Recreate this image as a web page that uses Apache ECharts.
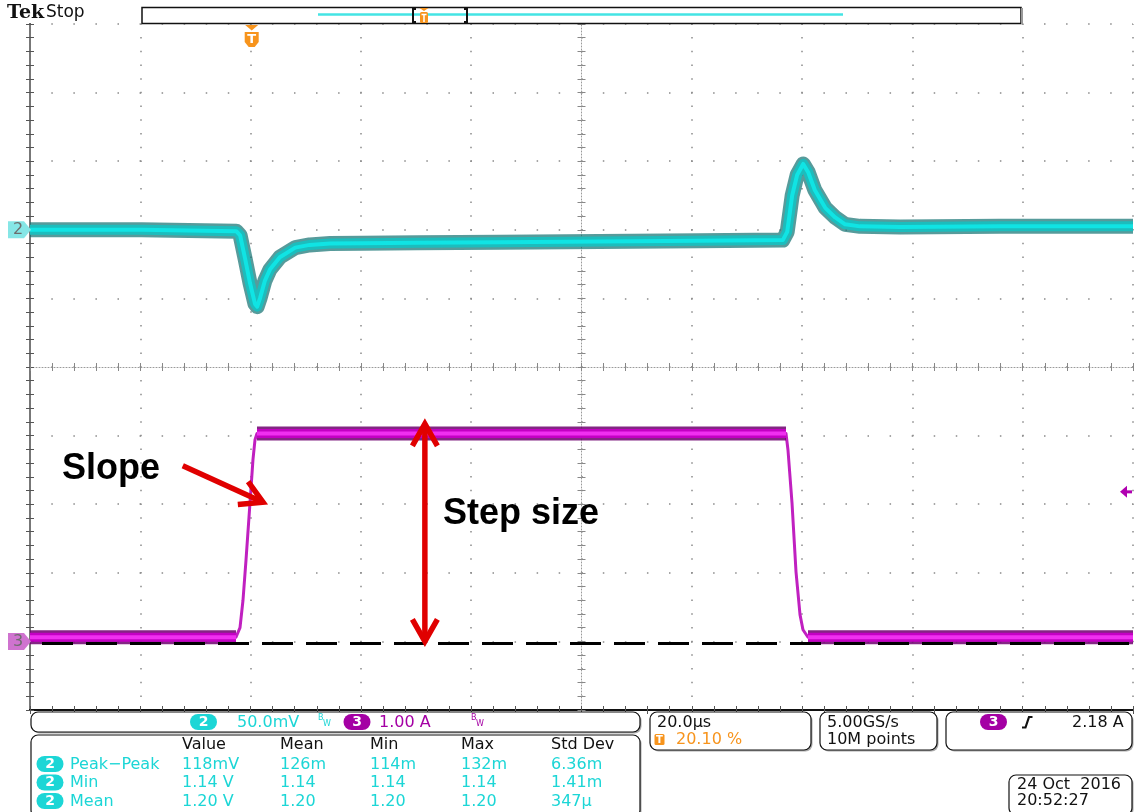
<!DOCTYPE html>
<html><head><meta charset="utf-8">
<script src="https://cdn.jsdelivr.net/npm/echarts@6/dist/echarts.min.js"></script>
<style>html,body{margin:0;padding:0;background:#fff}#c{width:1134px;height:812px}</style>
</head><body><div id="c"></div>
<script>
// ---------------- DATA ----------------
// time axis: 20 µs/div, 10 divisions, trigger at 20.10 % of record
const timeMin = -40.2, timeMax = 159.8;
// Channel 2 (50.0 mV/div, offset 1.20 V)
const ch2Offset = 1.20, ch2Scale = 0.05;
const ch2Time  = [-40.2, -20, -2.8, -2.1, -1.2, -0.3, 0.6, 1.0, 1.5, 2.4, 3.3, 5.1, 7.9, 10.5, 14.2, 20, 30, 45, 63, 81, 96.3, 97.1, 98.0, 98.9, 100.0, 100.9, 102.1, 104.0, 105.8, 107.6, 110.3, 117.6, 135.7, 159.8];
const ch2Volts = [1.200, 1.200, 1.199, 1.196, 1.179, 1.161, 1.146, 1.144, 1.150, 1.163, 1.171, 1.180, 1.187, 1.189, 1.190, 1.1902, 1.1905, 1.191, 1.1915, 1.192, 1.1925, 1.1985, 1.225, 1.240, 1.248, 1.242, 1.229, 1.216, 1.209, 1.204, 1.2025, 1.202, 1.2025, 1.2025];
// Channel 3 (1.00 A/div, offset 0 A)
const ch3Offset = 0, ch3Scale = 1.0;
const ch3Time = [-40.2, -2.85, -2.12, -1.58, -1.03, -0.31, 0.23, 0.6, 0.96, 96.88, 97.24, 97.97, 98.70, 99.42, 99.96, 100.87, 159.8];
const ch3Amps = [0.06, 0.06, 0.20, 0.60, 1.19, 2.02, 2.65, 2.94, 3.03, 3.03, 2.79, 2.02, 1.01, 0.39, 0.17, 0.06, 0.06];
const triggerLevel = 2.18;      // A, on ch3
const baseLevel = -0.03;        // A, dashed reference line
// annotations (µs, A)
const slopeArrow = [[-12.5, 2.56], [2.05, 2.03]];
const stepArrow  = [[31.4, 0.0], [31.4, 3.17]];
const slopeLabel = {text: 'Slope', at: [-34.4, 2.51]};
const stepLabel  = {text: 'Step size', at: [34.7, 1.86]};
// readouts
const scaleTexts = ['50.0mV', '1.00 A'];
const measHeaders = ['Value', 'Mean', 'Min', 'Max', 'Std Dev'];
const measRows = [
  ['Peak\u2212Peak', '118mV', '126m', '114m', '132m', '6.36m'],
  ['Min', '1.14 V', '1.14', '1.14', '1.14', '1.41m'],
  ['Mean', '1.20 V', '1.20', '1.20', '1.20', '347\u00b5']
];
const horizTexts = ['20.0\u00b5s', '20.10 %'];
const acqTexts = ['5.00GS/s', '10M points'];
const trigText = '2.18 A';
const dateTexts = ['24 Oct  2016', '20:52:27'];

// ---------------- BUILD ----------------
const ch2Data = ch2Time.map((t, i) => [t, ch2Volts[i]]);
const ch3Data = ch3Time.map((t, i) => [t, ch3Amps[i]]);
// plateau (noise band) segments of ch3
const ch3Band = [];
for (let i = 0; i < ch3Data.length - 1; i++) {
  if (Math.abs(ch3Data[i + 1][1] - ch3Data[i][1]) < 0.01) {
    ch3Band.push(ch3Data[i], ch3Data[i + 1], [ch3Data[i+1][0], null]);
  }
}

const CYAN = '#1cd6d6', MAG = '#a400a4', ORANGE = '#f7941d';
const chart = echarts.init(document.getElementById('c'));

function gridAxisX(extra) {
  return Object.assign({type: 'value', gridIndex: 0, min: 0, max: 10, interval: 1,
    axisLabel: {show: false}, splitLine: {show: false}}, extra);
}
function gridAxisY(extra) {
  return Object.assign({type: 'value', gridIndex: 0, min: 0, max: 10, interval: 1,
    axisLabel: {show: false}, splitLine: {show: false}}, extra);
}
const tickStyle = {color: '#555', width: 1};

const line = (data, yIdx, width, color, z, extra) => Object.assign({
  type: 'line', data, xAxisIndex: 0, yAxisIndex: yIdx, showSymbol: false, symbol: 'none',
  connectNulls: false, silent: true, z,
  lineStyle: {width, color, cap: 'butt', join: 'round'}
}, extra || {});

chart.setOption({
  animation: false,
  backgroundColor: '#ffffff',
  grid: {left: 30, top: 24, width: 1103, height: 686},
  xAxis: [
    {type: 'value', min: timeMin, max: timeMax, show: false},
    gridAxisX({position: 'bottom',
      axisLine: {show: true, lineStyle: {color: '#111', width: 2}},
      axisTick: {show: true, inside: true, length: 4, lineStyle: tickStyle},
      minorTick: {show: true, splitNumber: 5, length: 4, lineStyle: tickStyle},
      splitLine: {show: true, lineStyle: {color: '#8a8a8a', width: 1.5, type: [1.5, 12.22], dashOffset: 0.75}}}),
    gridAxisX({position: 'top',
      axisLine: {show: true, lineStyle: {color: '#111', width: 2}},
      axisTick: {show: true, inside: true, length: 4, lineStyle: tickStyle},
      minorTick: {show: true, splitNumber: 5, length: 4, lineStyle: tickStyle}}),
    gridAxisX({position: 'bottom', offset: -343,
      axisLine: {show: true, lineStyle: {color: '#9a9a9a', width: 1, type: [1, 2]}},
      axisTick: {show: true, inside: true, length: 4, lineStyle: {color: '#888'}},
      minorTick: {show: true, splitNumber: 5, length: 4, lineStyle: {color: '#888'}}}),
    gridAxisX({position: 'bottom', offset: -343,
      axisLine: {show: false},
      axisTick: {show: true, inside: false, length: 4, lineStyle: {color: '#888'}},
      minorTick: {show: true, splitNumber: 5, length: 4, lineStyle: {color: '#888'}}})
  ],
  yAxis: [
    {type: 'value', min: ch2Offset - 7 * ch2Scale, max: ch2Offset + 3 * ch2Scale, show: false},
    {type: 'value', min: ch3Offset - 1 * ch3Scale, max: ch3Offset + 9 * ch3Scale, show: false},
    gridAxisY({position: 'left',
      axisLine: {show: true, lineStyle: {color: '#111', width: 2}},
      axisTick: {show: true, inside: true, length: 4, lineStyle: tickStyle},
      minorTick: {show: true, splitNumber: 5, length: 4, lineStyle: tickStyle},
      splitLine: {show: true, lineStyle: {color: '#8a8a8a', width: 1.5, type: [1.5, 20.56], dashOffset: 0.75}}}),
    gridAxisY({position: 'right',
      axisLine: {show: true, lineStyle: {color: '#777', width: 2}},
      axisTick: {show: true, inside: true, length: 4, lineStyle: tickStyle},
      minorTick: {show: true, splitNumber: 5, length: 4, lineStyle: tickStyle}}),
    gridAxisY({position: 'left', offset: -551.5,
      axisLine: {show: true, lineStyle: {color: '#9a9a9a', width: 1, type: [1, 2]}},
      axisTick: {show: true, inside: true, length: 4, lineStyle: {color: '#888'}},
      minorTick: {show: true, splitNumber: 5, length: 4, lineStyle: {color: '#888'}}}),
    gridAxisY({position: 'left', offset: -551.5,
      axisLine: {show: false},
      axisTick: {show: true, inside: false, length: 4, lineStyle: {color: '#888'}},
      minorTick: {show: true, splitNumber: 5, length: 4, lineStyle: {color: '#888'}}})
  ],
  series: [
    line(ch2Data, 0, 15, 'rgba(16,112,112,0.7)', 3),
    line(ch2Data, 0, 10, '#1cbdbd', 4),
    line(ch2Data, 0, 4, '#10e4e4', 5),
    line(ch3Data, 1, 3, '#c020c0', 3),
    line(ch3Band, 1, 14, 'rgba(110,0,110,0.85)', 4),
    line(ch3Band, 1, 9, '#c400c4', 5),
    line(ch3Band, 1, 4, '#f030f0', 6),
    line([[timeMin, baseLevel], [timeMax, baseLevel]], 1, 3, '#000', 8,
      {lineStyle: {width: 3, color: '#000', type: [31, 13], dashOffset: 32, cap: 'butt'}})
  ]
});

// ---------------- OVERLAY ----------------
const P2 = v => chart.convertToPixel({xAxisIndex: 0, yAxisIndex: 0}, v);
const P3 = v => chart.convertToPixel({xAxisIndex: 0, yAxisIndex: 1}, v);
const FONT = '"DejaVu Sans", Verdana, sans-serif';
const g = [];
function txt(x, y, text, fill, size, extra) {
  g.push({type: 'text', x, y, z: 120, silent: true, style: Object.assign({
    text, fill: fill || '#000', font: (size || 16) + 'px ' + FONT,
    textAlign: 'left', align: 'left', textVerticalAlign: 'middle', verticalAlign: 'middle'}, extra || {})});
}
function panel(x, y, w, h) {
  g.push({type: 'rect', z: 105, silent: true, shape: {x: x + 1.5, y: y + 1.5, width: w, height: h, r: 7}, style: {fill: '#aaa'}});
  g.push({type: 'rect', z: 106, silent: true, shape: {x, y, width: w, height: h, r: 7}, style: {fill: '#fff', stroke: '#111', lineWidth: 1.2}});
}
function pill(cx, cy, label, color) {
  g.push({type: 'rect', z: 110, silent: true, shape: {x: cx - 13.5, y: cy - 8, width: 27, height: 16, r: 8}, style: {fill: color}});
  g.push({type: 'text', x: cx, y: cy, z: 111, silent: true, style: {text: label, fill: '#fff', font: 'bold 14px ' + FONT,
    textAlign: 'center', align: 'center', textVerticalAlign: 'middle', verticalAlign: 'middle'}});
}
function bw(x, y, color) {
  txt(x, y - 3, 'B', color, 8);
  txt(x + 5, y + 3, 'W', color, 8);
}
function arrowHead(tip, from, color) {
  const dx = tip[0] - from[0], dy = tip[1] - from[1];
  const len = Math.hypot(dx, dy), ux = dx / len, uy = dy / len, nx = -uy, ny = ux;
  const L = 22, W = 12.5;
  g.push({type: 'polyline', z: 130, silent: true, shape: {points: [
    [tip[0] - L * ux + W * nx, tip[1] - L * uy + W * ny], [tip[0], tip[1]],
    [tip[0] - L * ux - W * nx, tip[1] - L * uy - W * ny]]},
    style: {stroke: color, lineWidth: 5.5, fill: null, lineJoin: 'miter', miterLimit: 10}});
}
function arrow(a, b, both) {
  const RED = '#e00000';
  const ux = (b[0] - a[0]), uy = (b[1] - a[1]), len = Math.hypot(ux, uy);
  const sa = both ? [a[0] + ux / len * 3, a[1] + uy / len * 3] : a;
  const sb = [b[0] - ux / len * 3, b[1] - uy / len * 3];
  g.push({type: 'line', z: 129, silent: true, shape: {x1: sa[0], y1: sa[1], x2: sb[0], y2: sb[1]}, style: {stroke: RED, lineWidth: 5.5}});
  arrowHead(b, a, RED);
  if (both) arrowHead(a, b, RED);
}

// header
txt(7, 13, 'Tek', '#111', 19, {font: 'bold 19px "DejaVu Serif", serif'});
txt(46, 13, 'Stop', '#111', 17);
g.push({type: 'rect', z: 101, silent: true, shape: {x: 142, y: 7.5, width: 879, height: 16}, style: {fill: '#fff', stroke: '#111', lineWidth: 1.5}});
g.push({type: 'line', z: 102, silent: true, shape: {x1: 1022, y1: 8, x2: 1022, y2: 24}, style: {stroke: '#999', lineWidth: 2}});
g.push({type: 'line', z: 102, silent: true, shape: {x1: 318, y1: 14.5, x2: 843, y2: 14.5}, style: {stroke: '#44e4e4', lineWidth: 2.5}});
g.push({type: 'polyline', z: 103, silent: true, shape: {points: [[416, 9], [413, 9], [413, 22], [416, 22]]}, style: {stroke: '#111', lineWidth: 2, fill: null}});
g.push({type: 'polyline', z: 103, silent: true, shape: {points: [[464, 9], [467, 9], [467, 22], [464, 22]]}, style: {stroke: '#111', lineWidth: 2, fill: null}});
g.push({type: 'polygon', z: 103, silent: true, shape: {points: [[419.5, 8], [428.5, 8], [424, 11]]}, style: {fill: ORANGE}});
g.push({type: 'rect', z: 103, silent: true, shape: {x: 420, y: 12, width: 8, height: 11, r: 1.5}, style: {fill: ORANGE}});
g.push({type: 'line', z: 104, silent: true, shape: {x1: 424, y1: 14, x2: 424, y2: 22}, style: {stroke: '#fff', lineWidth: 1.5}});
g.push({type: 'line', z: 104, silent: true, shape: {x1: 421.5, y1: 14.5, x2: 426.5, y2: 14.5}, style: {stroke: '#fff', lineWidth: 1.5}});

// trigger position marker (t = 0)
const tx = P3([0, 0])[0];
g.push({type: 'polygon', z: 110, silent: true, shape: {points: [[tx - 6.5, 25], [tx + 6.5, 25], [tx, 30.5]]}, style: {fill: ORANGE}});
g.push({type: 'polygon', z: 110, silent: true, shape: {points: [[tx - 7, 32], [tx + 7, 32], [tx + 7, 42], [tx + 3, 47], [tx - 3, 47], [tx - 7, 42]]}, style: {fill: ORANGE}});
g.push({type: 'text', x: tx, y: 39.5, z: 111, silent: true, style: {text: 'T', fill: '#fff', font: 'bold 13px ' + FONT, textAlign: 'center', align: 'center', textVerticalAlign: 'middle', verticalAlign: 'middle'}});

// channel markers
function chMarker(y, label, fill) {
  g.push({type: 'polygon', z: 110, silent: true, shape: {points: [[8, y - 8.5], [24, y - 8.5], [31, y], [24, y + 8.5], [8, y + 8.5]]}, style: {fill}});
  g.push({type: 'text', x: 13, y: y + 0.5, z: 111, silent: true, style: {text: label, fill: '#6d6d6d', font: '16px ' + FONT, textAlign: 'left', align: 'left', textVerticalAlign: 'middle', verticalAlign: 'middle'}});
}
chMarker(P2([0, ch2Offset])[1], '2', '#86e6e6');
chMarker(P3([0, ch3Offset])[1], '3', '#cf73cf');
// trigger level arrow
const ty = P3([0, triggerLevel])[1];
g.push({type: 'polygon', z: 110, silent: true, shape: {points: [[1120, ty], [1127, ty - 6], [1127, ty + 6]]}, style: {fill: '#b000b0'}});
g.push({type: 'line', z: 110, silent: true, shape: {x1: 1126, y1: ty, x2: 1132, y2: ty}, style: {stroke: '#b000b0', lineWidth: 3}});

// annotations
arrow(P3(slopeArrow[0]), P3(slopeArrow[1]), false);
arrow(P3(stepArrow[0]), P3(stepArrow[1]), true);
const sl = P3(slopeLabel.at), st = P3(stepLabel.at);
txt(sl[0], sl[1], slopeLabel.text, '#000', 36, {font: 'bold 36px "Liberation Sans", Arial, sans-serif'});
txt(st[0], st[1], stepLabel.text, '#000', 36, {font: 'bold 36px "Liberation Sans", Arial, sans-serif'});

// bottom panels
panel(31, 712, 609, 20);
pill(203.5, 722, '2', CYAN);
txt(237, 722.5, scaleTexts[0], CYAN, 16);
bw(318, 721, CYAN);
pill(357, 722, '3', MAG);
txt(379, 722.5, scaleTexts[1], MAG, 16);
bw(471, 721, MAG);

panel(31, 735, 609, 82);
const cols = [182, 280, 370, 461, 551];
measHeaders.forEach((h, i) => txt(cols[i], 745, h, '#111', 16));
measRows.forEach((r, j) => {
  const y = 764 + j * 18.5;
  pill(50, y, '2', CYAN);
  txt(70, y + 0.5, r[0], CYAN, 16);
  for (let i = 1; i < r.length; i++) txt(cols[i - 1], y + 0.5, r[i], CYAN, 16);
});

panel(650, 712, 161, 38);
txt(657, 723, horizTexts[0], '#111', 16);
g.push({type: 'rect', z: 110, silent: true, shape: {x: 654.5, y: 734, width: 10, height: 11, r: 1.5}, style: {fill: ORANGE}});
g.push({type: 'text', x: 659.5, y: 740, z: 111, silent: true, style: {text: 'T', fill: '#fff', font: 'bold 10px ' + FONT, textAlign: 'center', align: 'center', textVerticalAlign: 'middle', verticalAlign: 'middle'}});
txt(676, 740, horizTexts[1], ORANGE, 16);

panel(820, 712, 117, 38);
txt(827, 723, acqTexts[0], '#111', 16);
txt(827, 740, acqTexts[1], '#111', 16);

panel(946, 712, 186, 38);
pill(993.5, 722, '3', MAG);
g.push({type: 'polyline', z: 110, silent: true, shape: {points: [[1022, 727.5], [1025.5, 727.5], [1029, 717], [1032.5, 717]]}, style: {stroke: '#111', lineWidth: 2.2, fill: null}});
txt(1072, 722.5, trigText, '#111', 16);

panel(1009, 775, 123, 40);
txt(1017, 785, dateTexts[0], '#111', 16);
txt(1017, 801, dateTexts[1], '#111', 16);

chart.setOption({graphic: {elements: g}});
</script></body></html>
